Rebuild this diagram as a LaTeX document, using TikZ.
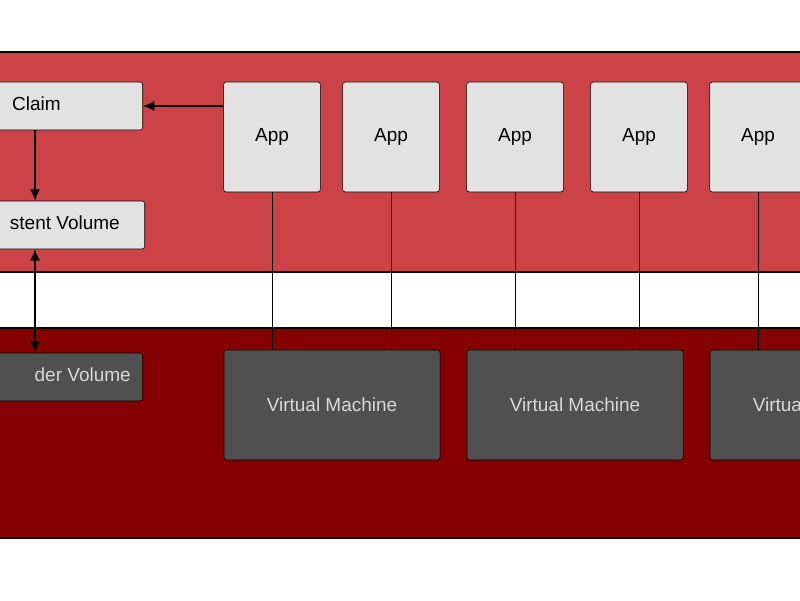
\documentclass[tikz,border=0pt]{standalone}
\usepackage{fontspec}
\setmainfont{Liberation Sans}
\usetikzlibrary{positioning, arrows.meta}
\definecolor{topred}{HTML}{CC4347}
\definecolor{lowred}{HTML}{850000}
\definecolor{litegray}{HTML}{E2E2E2}
\definecolor{darkgray}{HTML}{505050}
\tikzset{
	band/.style={draw=black, line width=0.8pt},
	app/.style={draw=black, rectangle, rounded corners=2pt, fill=litegray, minimum width=2.42cm, minimum height=2.75cm, font=\fontsize{13.5}{16}\selectfont},
	vm/.style={draw=black, rectangle, rounded corners=2pt, fill=darkgray, text=white!85!black, minimum width=5.4cm, minimum height=2.75cm, font=\fontsize{13.5}{16}\selectfont},
	store/.style={draw=black, rectangle, rounded corners=2pt, minimum width=8cm, minimum height=1.2cm},
	lbl/.style={anchor=east, inner sep=0pt, font=\fontsize{13.5}{16}\selectfont},
}
\begin{document}
\begin{tikzpicture}[x=0.025cm, y=-0.025cm]
	\useasboundingbox (0,0) rectangle (800,600);
	\clip (0,0) rectangle (800,600);
	\fill[white] (0,0) rectangle (800,600);
	% bands
	\draw[band, fill=topred] (-20,52) rectangle (820,272);
	\draw[band, fill=lowred] (-20,328) rectangle (820,538);
	% storage on the left
	\node (claim) [store, fill=litegray, anchor=east] at (143,106) {};
	\node (pv) [store, fill=litegray, anchor=east] at (145,225) {};
	\node (prov) [store, fill=darkgray, anchor=east] at (143,377) {};
	\node [lbl] at (61,104) {Claim};
	\node [lbl] at (120,223) {stent Volume};
	\node [lbl, text=white!85!black] at (131,375) {der Volume};
	% apps
	\node (app1) [app] at (272,137) {App};
	\node (app2) [app] at (391,137) {App};
	\node (app3) [app] at (515,137) {App};
	\node (app4) [app] at (639,137) {App};
	\node (app5) [app] at (758,137) {App};
	% virtual machines
	\node (vm1) [vm] at (332,405) {Virtual Machine};
	\node (vm2) [vm] at (575,405) {Virtual Machine};
	\node (vm3) [vm] at (818,405) {Virtual Machine};
	% links
	\begin{scope}[thin, black]
		\draw (app1) -- (app1 |- vm1.north);
		\draw (app2) -- (app2 |- vm1.north);
		\draw (app3) -- (app3 |- vm2.north);
		\draw (app4) -- (app4 |- vm2.north);
		\draw (app5.south) -- (app5 |- vm3.north);
	\end{scope}
	\begin{scope}[thick, black, ->, >={Latex[length=8pt, width=7pt]}]
		\draw (app1.west |- claim) -- (claim.east);
		\draw (claim.south -| 35,0) -- (pv.north -| 35,0);
		\draw[<->] (pv.south -| 35,0) -- (prov.north -| 35,0);
	\end{scope}
\end{tikzpicture}
\end{document}
